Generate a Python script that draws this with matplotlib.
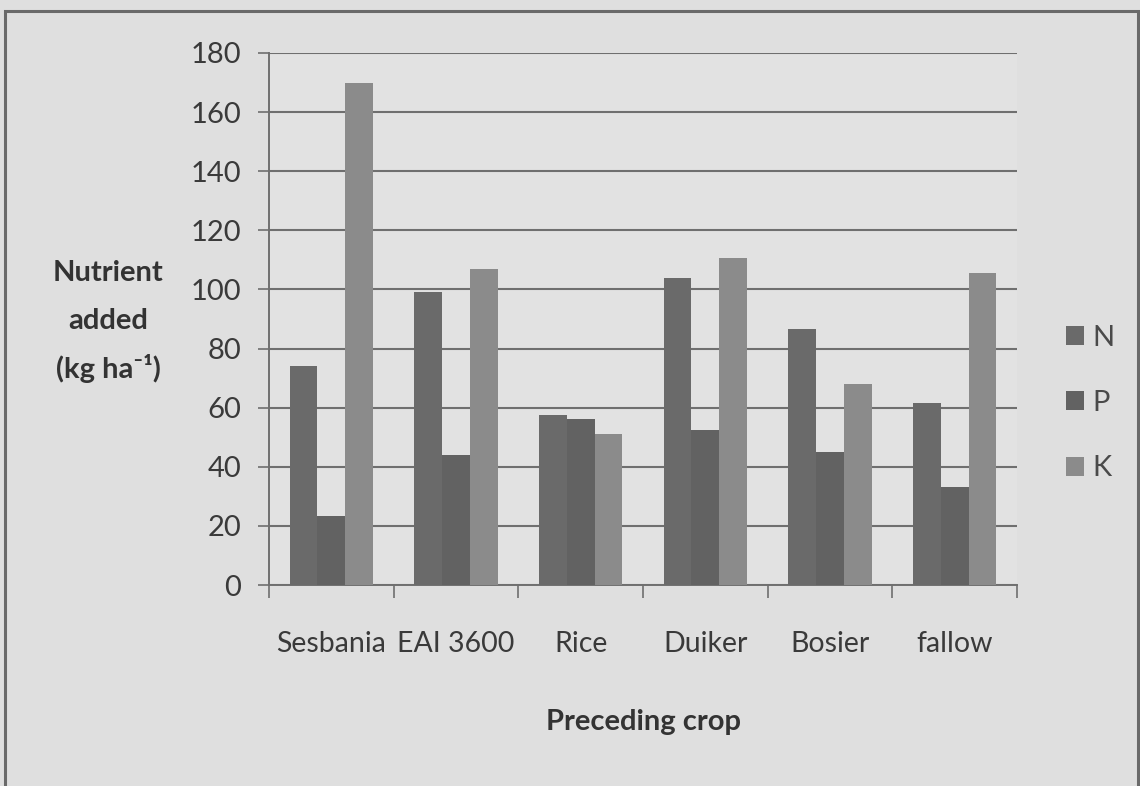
"""Nutrient added (N, P, K) by preceding crop, grouped bar chart."""

import matplotlib

matplotlib.use("Agg")
import matplotlib.pyplot as plt
import numpy as np
from matplotlib.patches import Rectangle

crops = ["Sesbania", "EAI 3600", "Rice", "Duiker", "Bosier", "fallow"]
nutrients = ["N", "P", "K"]
n_added = [74, 99, 57.5, 104, 86.5, 61.5]
p_added = [23.5, 44, 56, 52.5, 45, 33]
k_added = [170, 107, 51, 110.5, 68, 105.5]
y_ticks = [0, 20, 40, 60, 80, 100, 120, 140, 160, 180]

FONT = ["Lato", "DejaVu Sans"]
plt.rcParams["font.family"] = FONT

BG = "#dfdfdf"
TEXT = "#3a3a3a"
GRID = "#6f6f6f"
bar_colors = ["#6a6a6a", "#626262", "#8b8b8b"]

W, H, DPI = 1140, 786, 100
fig = plt.figure(figsize=(W / DPI, H / DPI), dpi=DPI, facecolor=BG)

# plot box in pixel coordinates (left, top, right, bottom)
L, T, R, B = 269, 53, 1017, 585
ax = fig.add_axes([L / W, 1 - B / H, (R - L) / W, (B - T) / H])
ax.set_facecolor("#e2e2e2")

series = [n_added, p_added, k_added]
x = np.arange(len(crops)) + 0.5
bw = 1 / 4.5  # Excel gap width 150%
for i, (vals, name) in enumerate(zip(series, nutrients)):
    ax.bar(x + (i - 1) * bw, vals, width=bw, color=bar_colors[i],
           label=name, zorder=3, linewidth=0)

ax.set_xlim(0, len(crops))
ax.set_ylim(0, 180)
ax.set_yticks(y_ticks)
ax.yaxis.grid(True, color=GRID, linewidth=1.5, zorder=0)
ax.set_axisbelow(True)

# category boundaries get the tick marks, centres get the labels
ax.set_xticks(np.arange(len(crops) + 1))
ax.set_xticklabels([])
ax.set_xticks(x, minor=True)
ax.set_xticklabels(crops, minor=True)
ax.tick_params(axis="x", which="major", length=9, width=1.2, color=GRID,
               direction="out")
ax.tick_params(axis="x", which="minor", length=0, pad=33, labelsize=20.5,
               labelcolor=TEXT)
ax.tick_params(axis="y", length=8, width=1.2, color=GRID, pad=12,
               labelsize=21, labelcolor=TEXT)

for side in ("top", "right"):
    ax.spines[side].set_visible(False)
for side in ("left", "bottom"):
    ax.spines[side].set_color(GRID)
    ax.spines[side].set_linewidth(1.4)

# y-axis title on three lines, left of the tick labels
for text, ypx in [("Nutrient", 273), ("added", 321), ("(kg ha\u207b\u00b9)", 369)]:
    fig.text(108 / W, 1 - ypx / H, text, ha="center", va="center",
             fontsize=21, fontweight="bold", color="#333333", family=FONT)

fig.text(643 / W, 1 - 722 / H, "Preceding crop", ha="center", va="center",
         fontsize=21, fontweight="bold", color="#333333")

leg = fig.legend(loc="center left", bbox_to_anchor=(1066 / W, 1 - 403 / H),
                 frameon=False, fontsize=21, labelcolor="#4a4a4a",
                 handlelength=0.62, handleheight=0.62, handletextpad=0.3,
                 labelspacing=1.35, borderaxespad=0, borderpad=0)

# outer frame of the chart
fig.patches.append(Rectangle((5 / W, -0.05), (1133 / W), 1 - 11 / H + 0.05,
                             transform=fig.transFigure, fill=False,
                             edgecolor="#6a6a6a", linewidth=2.2))

fig.savefig("out.png", dpi=DPI, facecolor=BG)
